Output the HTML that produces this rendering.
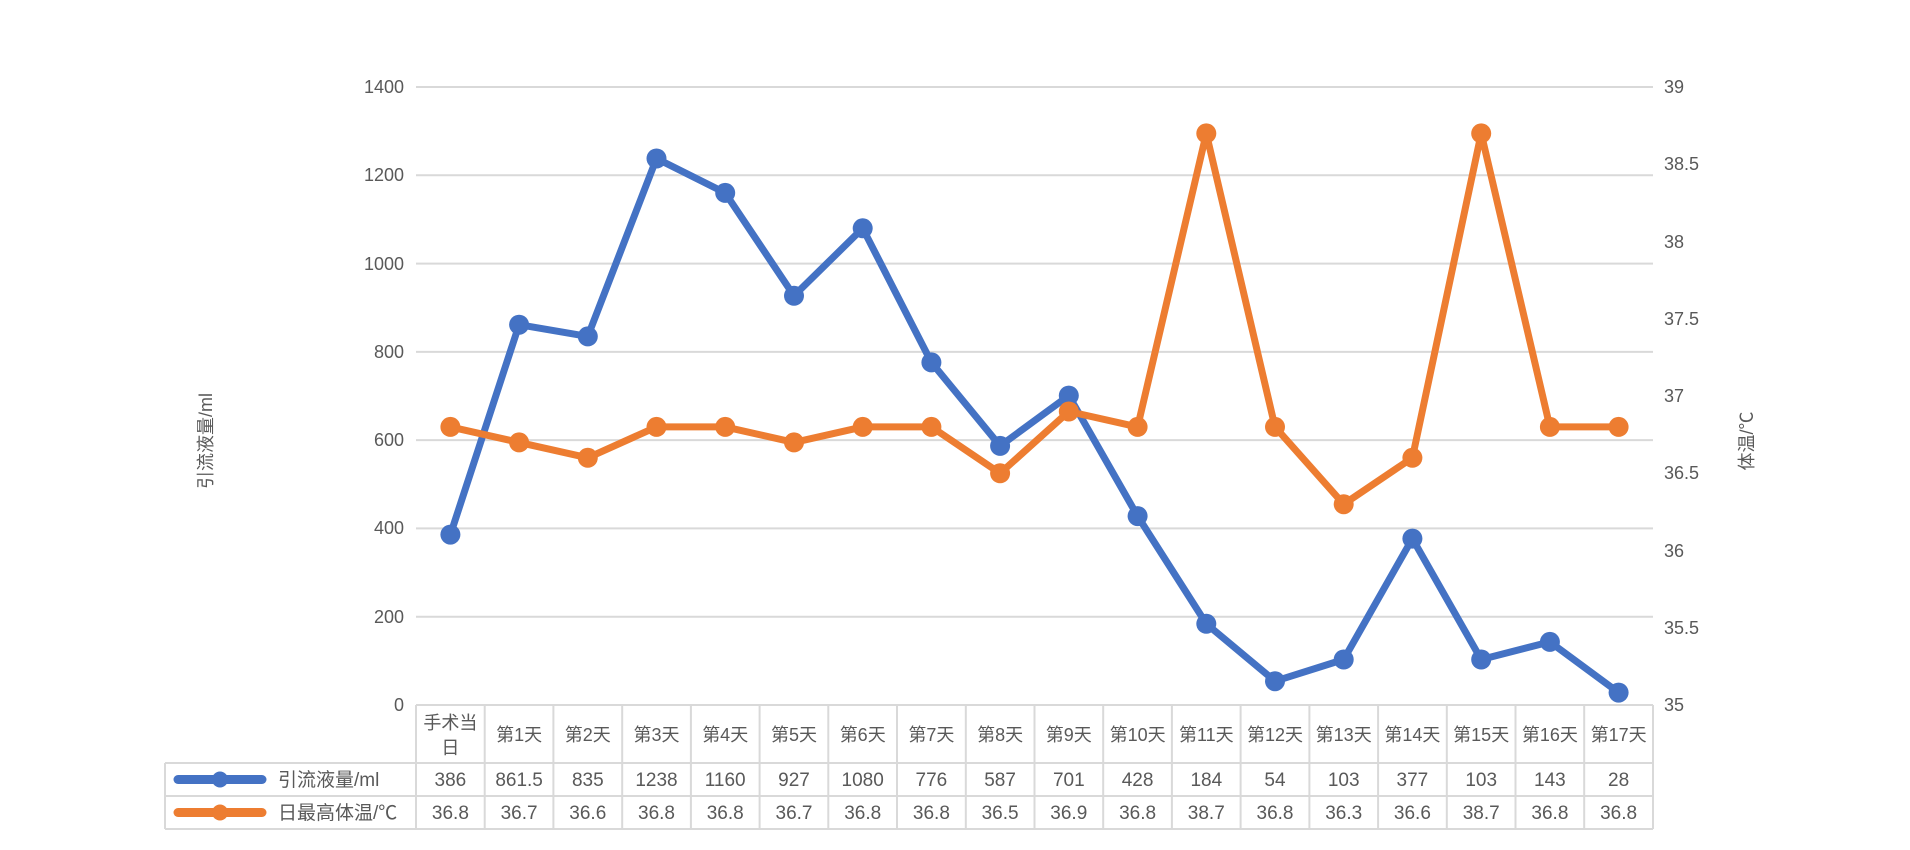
<!DOCTYPE html>
<html><head><meta charset="utf-8"><style>
html,body{margin:0;padding:0;background:#fff;}
svg{display:block;font-family:"Liberation Sans","Noto Sans CJK SC",sans-serif;}
</style></head><body>
<svg width="1910" height="850" viewBox="0 0 1910 850" xmlns="http://www.w3.org/2000/svg">
<g stroke="#d9d9d9" stroke-width="2">
<line x1="416" y1="87" x2="1653" y2="87"/>
<line x1="416" y1="175.3" x2="1653" y2="175.3"/>
<line x1="416" y1="263.6" x2="1653" y2="263.6"/>
<line x1="416" y1="351.9" x2="1653" y2="351.9"/>
<line x1="416" y1="440.1" x2="1653" y2="440.1"/>
<line x1="416" y1="528.4" x2="1653" y2="528.4"/>
<line x1="416" y1="616.7" x2="1653" y2="616.7"/>
</g>
<g fill="#595959" font-size="18" text-anchor="end">
<text x="404" y="93">1400</text><text x="404" y="181">1200</text><text x="404" y="270">1000</text>
<text x="404" y="358">800</text><text x="404" y="446">600</text><text x="404" y="534">400</text>
<text x="404" y="623">200</text><text x="404" y="711">0</text>
</g>
<g fill="#595959" font-size="18">
<text x="1664" y="93">39</text><text x="1664" y="170">38.5</text><text x="1664" y="248">38</text>
<text x="1664" y="325">37.5</text><text x="1664" y="402">37</text><text x="1664" y="479">36.5</text>
<text x="1664" y="557">36</text><text x="1664" y="634">35.5</text><text x="1664" y="711">35</text>
</g>
<text x="212" y="441" fill="#595959" font-size="18" text-anchor="middle" transform="rotate(-90 212 441)">引流液量/ml</text>
<text x="1753" y="441" fill="#595959" font-size="18" text-anchor="middle" transform="rotate(-90 1753 441)">体温/℃</text>

<polyline fill="none" stroke="#4472c4" stroke-width="7" stroke-linejoin="round" points="450.4,534.6 519.1,324.7 587.8,336.4 656.5,158.5 725.2,192.9 794,295.8 862.7,228.3 931.4,362.4 1000.1,445.9 1068.8,395.6 1137.6,516.1 1206.3,623.8 1275,681.2 1343.7,659.5 1412.4,538.6 1481.2,659.5 1549.9,641.9 1618.6,692.6"/>
<g fill="#4472c4">
<circle cx="450.4" cy="534.6" r="10"/><circle cx="519.1" cy="324.7" r="10"/><circle cx="587.8" cy="336.4" r="10"/><circle cx="656.5" cy="158.5" r="10"/><circle cx="725.2" cy="192.9" r="10"/><circle cx="794" cy="295.8" r="10"/><circle cx="862.7" cy="228.3" r="10"/><circle cx="931.4" cy="362.4" r="10"/><circle cx="1000.1" cy="445.9" r="10"/><circle cx="1068.8" cy="395.6" r="10"/><circle cx="1137.6" cy="516.1" r="10"/><circle cx="1206.3" cy="623.8" r="10"/><circle cx="1275" cy="681.2" r="10"/><circle cx="1343.7" cy="659.5" r="10"/><circle cx="1412.4" cy="538.6" r="10"/><circle cx="1481.2" cy="659.5" r="10"/><circle cx="1549.9" cy="641.9" r="10"/><circle cx="1618.6" cy="692.6" r="10"/>
</g>
<polyline fill="none" stroke="#ed7d31" stroke-width="7" stroke-linejoin="round" points="450.4,426.9 519.1,442.4 587.8,457.8 656.5,426.9 725.2,426.9 794,442.4 862.7,426.9 931.4,426.9 1000.1,473.3 1068.8,411.5 1137.6,426.9 1206.3,133.4 1275,426.9 1343.7,504.2 1412.4,457.8 1481.2,133.4 1549.9,426.9 1618.6,426.9"/>
<g fill="#ed7d31">
<circle cx="450.4" cy="426.9" r="10"/><circle cx="519.1" cy="442.4" r="10"/><circle cx="587.8" cy="457.8" r="10"/><circle cx="656.5" cy="426.9" r="10"/><circle cx="725.2" cy="426.9" r="10"/><circle cx="794" cy="442.4" r="10"/><circle cx="862.7" cy="426.9" r="10"/><circle cx="931.4" cy="426.9" r="10"/><circle cx="1000.1" cy="473.3" r="10"/><circle cx="1068.8" cy="411.5" r="10"/><circle cx="1137.6" cy="426.9" r="10"/><circle cx="1206.3" cy="133.4" r="10"/><circle cx="1275" cy="426.9" r="10"/><circle cx="1343.7" cy="504.2" r="10"/><circle cx="1412.4" cy="457.8" r="10"/><circle cx="1481.2" cy="133.4" r="10"/><circle cx="1549.9" cy="426.9" r="10"/><circle cx="1618.6" cy="426.9" r="10"/>
</g>

<!-- data table -->
<g stroke="#d9d9d9" stroke-width="2" fill="none">
<line x1="416" y1="705" x2="1653" y2="705"/>
<line x1="165" y1="763" x2="1653" y2="763"/>
<line x1="165" y1="796" x2="1653" y2="796"/>
<line x1="165" y1="829" x2="1653" y2="829"/>
<line x1="165" y1="763" x2="165" y2="829"/>
<line x1="416" y1="705" x2="416" y2="829"/>
<line x1="484.7" y1="705" x2="484.7" y2="829"/>
<line x1="553.4" y1="705" x2="553.4" y2="829"/>
<line x1="622.2" y1="705" x2="622.2" y2="829"/>
<line x1="690.9" y1="705" x2="690.9" y2="829"/>
<line x1="759.6" y1="705" x2="759.6" y2="829"/>
<line x1="828.3" y1="705" x2="828.3" y2="829"/>
<line x1="897" y1="705" x2="897" y2="829"/>
<line x1="965.8" y1="705" x2="965.8" y2="829"/>
<line x1="1034.5" y1="705" x2="1034.5" y2="829"/>
<line x1="1103.2" y1="705" x2="1103.2" y2="829"/>
<line x1="1171.9" y1="705" x2="1171.9" y2="829"/>
<line x1="1240.6" y1="705" x2="1240.6" y2="829"/>
<line x1="1309.4" y1="705" x2="1309.4" y2="829"/>
<line x1="1378.1" y1="705" x2="1378.1" y2="829"/>
<line x1="1446.8" y1="705" x2="1446.8" y2="829"/>
<line x1="1515.5" y1="705" x2="1515.5" y2="829"/>
<line x1="1584.2" y1="705" x2="1584.2" y2="829"/>
<line x1="1653" y1="705" x2="1653" y2="829"/>
</g>
<line x1="178" y1="779.5" x2="262" y2="779.5" stroke="#4472c4" stroke-width="9" stroke-linecap="round"/>
<circle cx="220" cy="779.5" r="8" fill="#4472c4"/>
<line x1="178" y1="812.5" x2="262" y2="812.5" stroke="#ed7d31" stroke-width="9" stroke-linecap="round"/>
<circle cx="220" cy="812.5" r="8" fill="#ed7d31"/>
<g fill="#595959" font-size="19">
<text x="278" y="786">引流液量/ml</text>
<text x="278" y="819">日最高体温/℃</text>
</g>
<g fill="#595959" font-size="18" text-anchor="middle">
<text x="450.4" y="729">手术当</text><text x="450.4" y="754">日</text>
<text x="519.1" y="741">第1天</text><text x="587.8" y="741">第2天</text><text x="656.5" y="741">第3天</text>
<text x="725.2" y="741">第4天</text><text x="794" y="741">第5天</text><text x="862.7" y="741">第6天</text>
<text x="931.4" y="741">第7天</text><text x="1000.1" y="741">第8天</text><text x="1068.8" y="741">第9天</text>
<text x="1137.6" y="741">第10天</text><text x="1206.3" y="741">第11天</text><text x="1275" y="741">第12天</text>
<text x="1343.7" y="741">第13天</text><text x="1412.4" y="741">第14天</text><text x="1481.2" y="741">第15天</text>
<text x="1549.9" y="741">第16天</text><text x="1618.6" y="741">第17天</text>
</g>
<g fill="#595959" font-size="19" text-anchor="middle">
<text x="450.4" y="786">386</text><text x="519.1" y="786">861.5</text><text x="587.8" y="786">835</text>
<text x="656.5" y="786">1238</text><text x="725.2" y="786">1160</text><text x="794" y="786">927</text>
<text x="862.7" y="786">1080</text><text x="931.4" y="786">776</text><text x="1000.1" y="786">587</text>
<text x="1068.8" y="786">701</text><text x="1137.6" y="786">428</text><text x="1206.3" y="786">184</text>
<text x="1275" y="786">54</text><text x="1343.7" y="786">103</text><text x="1412.4" y="786">377</text>
<text x="1481.2" y="786">103</text><text x="1549.9" y="786">143</text><text x="1618.6" y="786">28</text>
<text x="450.4" y="819">36.8</text><text x="519.1" y="819">36.7</text><text x="587.8" y="819">36.6</text>
<text x="656.5" y="819">36.8</text><text x="725.2" y="819">36.8</text><text x="794" y="819">36.7</text>
<text x="862.7" y="819">36.8</text><text x="931.4" y="819">36.8</text><text x="1000.1" y="819">36.5</text>
<text x="1068.8" y="819">36.9</text><text x="1137.6" y="819">36.8</text><text x="1206.3" y="819">38.7</text>
<text x="1275" y="819">36.8</text><text x="1343.7" y="819">36.3</text><text x="1412.4" y="819">36.6</text>
<text x="1481.2" y="819">38.7</text><text x="1549.9" y="819">36.8</text><text x="1618.6" y="819">36.8</text>
</g>
</svg>
</body></html>
